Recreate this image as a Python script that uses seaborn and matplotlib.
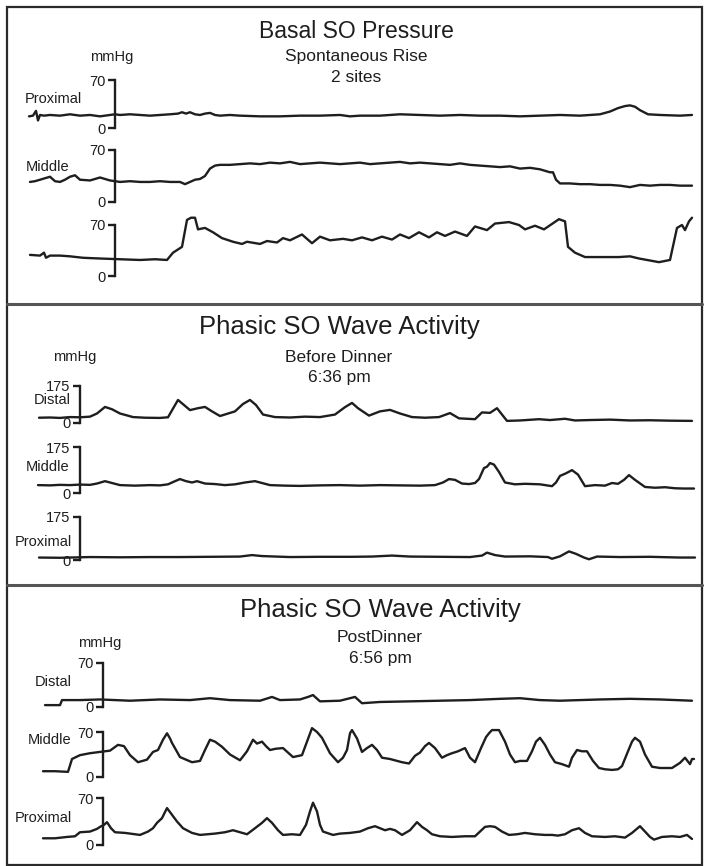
import numpy as np
import matplotlib
matplotlib.use("Agg")
import matplotlib.pyplot as plt
from matplotlib.patches import Rectangle
from matplotlib.lines import Line2D
import seaborn as sns

# ---- traces: (time, mmHg) ----
basal_proximal = [(29, 17), (33, 18), (36, 25), (38, 11), (40, 19), (44, 18), (50, 19), (60, 18), (70, 20), (80, 18),
                  (90, 19), (100, 17), (110, 19), (115, 20), (120, 19), (130, 20), (140, 19), (150, 18), (160, 19), (170, 20),
                  (178, 21), (182, 23), (186, 21), (190, 23), (195, 20), (200, 19), (205, 21), (210, 22), (215, 19), (220, 18),
                  (230, 19), (240, 18), (260, 17), (280, 17), (300, 18), (320, 18), (340, 19), (350, 17), (360, 18), (380, 18),
                  (400, 20), (420, 19), (440, 18), (460, 19), (480, 18), (500, 18), (520, 17), (540, 18), (560, 19), (580, 18),
                  (600, 20), (610, 24), (618, 29), (625, 32), (630, 33), (635, 31), (640, 26), (648, 20), (660, 19), (680, 18),
                  (692, 19)]
basal_middle = [(30, 27), (35, 28), (40, 30), (45, 32), (50, 34), (55, 28), (60, 27), (65, 30), (70, 34), (75, 36),
                (80, 30), (90, 29), (100, 33), (110, 29), (120, 27), (130, 28), (140, 27), (150, 27), (160, 28), (170, 27),
                (180, 27), (185, 24), (190, 27), (195, 30), (200, 31), (205, 35), (210, 45), (215, 49), (220, 50), (230, 50),
                (240, 51), (250, 52), (260, 51), (270, 53), (280, 52), (290, 54), (300, 51), (310, 52), (320, 53), (330, 52),
                (340, 51), (350, 52), (360, 53), (370, 51), (380, 52), (390, 53), (400, 54), (410, 52), (420, 53), (430, 52),
                (440, 51), (450, 50), (460, 52), (470, 50), (480, 49), (490, 48), (500, 47), (510, 48), (520, 45), (530, 46),
                (540, 44), (545, 42), (550, 40), (553, 40), (556, 30), (560, 25), (570, 25), (580, 24), (590, 24), (600, 23),
                (610, 23), (620, 22), (630, 20), (640, 23), (650, 22), (660, 23), (670, 23), (680, 22), (692, 22)]
basal_third = [(30, 29), (40, 28), (44, 32), (46, 25), (50, 28), (60, 28), (70, 27), (83, 25), (100, 24), (120, 23),
               (140, 22), (155, 23), (167, 22), (173, 32), (182, 40), (187, 77), (191, 80), (195, 80), (198, 64), (205, 66),
               (213, 60), (222, 52), (233, 47), (242, 44), (247, 47), (260, 44), (267, 48), (277, 46), (283, 52), (290, 49),
               (302, 57), (312, 45), (320, 54), (330, 49), (343, 51), (352, 49), (362, 53), (372, 49), (382, 54), (392, 50),
               (400, 57), (409, 52), (419, 60), (429, 53), (437, 60), (445, 55), (455, 61), (467, 55), (475, 68), (487, 63),
               (495, 72), (509, 74), (519, 70), (525, 64), (535, 69), (544, 64), (559, 78), (565, 75), (568, 40), (575, 32),
               (585, 26), (600, 26), (619, 26), (630, 27), (639, 24), (659, 19), (670, 22), (677, 66), (682, 70), (685, 63),
               (689, 75), (692, 80)]

before_distal = [(39, 25), (50, 26), (60, 24), (70, 28), (80, 27), (90, 30), (97, 45), (105, 76), (112, 65), (120, 45),
                 (133, 28), (145, 25), (160, 24), (168, 27), (172, 60), (178, 109), (184, 85), (190, 61), (198, 70), (205, 76),
                 (212, 55), (220, 33), (235, 55), (243, 90), (250, 109), (256, 85), (263, 40), (275, 28), (290, 26), (305, 30),
                 (320, 28), (335, 40), (345, 75), (352, 95), (358, 70), (369, 35), (380, 55), (390, 62), (400, 45), (412, 28),
                 (425, 25), (439, 28), (450, 47), (459, 22), (467, 20), (475, 18), (482, 50), (490, 48), (497, 70), (502, 40),
                 (507, 10), (520, 12), (539, 18), (550, 14), (565, 20), (575, 12), (590, 14), (610, 16), (630, 12), (650, 13),
                 (670, 11), (692, 10)]
before_middle = [(38, 30), (50, 29), (60, 31), (70, 30), (80, 32), (90, 31), (97, 36), (105, 45), (112, 38), (120, 30),
                 (135, 28), (150, 30), (160, 29), (168, 33), (175, 45), (180, 53), (186, 45), (192, 40), (197, 45), (205, 36),
                 (215, 34), (225, 30), (235, 33), (245, 40), (255, 45), (262, 38), (270, 30), (285, 28), (300, 27), (320, 29),
                 (340, 30), (360, 28), (380, 30), (400, 29), (420, 28), (435, 30), (443, 40), (449, 53), (455, 50), (462, 36),
                 (469, 34), (475, 38), (479, 53), (484, 95), (487, 100), (490, 114), (494, 108), (499, 80), (505, 40), (515, 33),
                 (525, 35), (540, 33), (552, 26), (556, 40), (560, 65), (566, 75), (572, 87), (578, 70), (585, 26), (595, 30),
                 (605, 28), (612, 38), (618, 35), (624, 50), (629, 68), (635, 50), (645, 23), (655, 20), (665, 22), (675, 18),
                 (684, 17), (694, 17)]
before_proximal = [(39, 10), (60, 9), (90, 12), (120, 11), (150, 12), (180, 12), (210, 13), (240, 14), (252, 20), (262, 16),
                   (290, 12), (320, 13), (352, 13), (372, 14), (392, 18), (410, 14), (440, 13), (470, 12), (482, 18), (487, 30),
                   (495, 20), (505, 14), (530, 15), (548, 12), (552, 5), (560, 15), (569, 35), (576, 25), (584, 10), (589, 3),
                   (597, 14), (620, 12), (650, 13), (680, 10), (695, 10)]

post_distal = [(45, 3), (60, 3), (62, 11), (80, 11), (100, 12), (130, 10), (160, 12), (190, 11), (210, 14), (230, 11),
               (260, 10), (272, 16), (280, 11), (300, 12), (308, 16), (313, 19), (320, 9), (340, 10), (355, 16), (362, 6),
               (380, 8), (410, 9), (440, 10), (470, 11), (500, 13), (520, 14), (540, 11), (560, 10), (600, 12), (630, 13),
               (660, 12), (692, 10)]
post_middle = [(43, 9), (55, 9), (68, 8), (72, 28), (80, 34), (90, 37), (100, 39), (110, 41), (118, 50), (124, 48),
               (130, 34), (138, 23), (147, 27), (153, 39), (158, 42), (163, 58), (167, 68), (170, 60), (172, 53), (180, 31),
               (192, 23), (200, 25), (205, 42), (210, 58), (215, 55), (222, 47), (230, 35), (240, 26), (247, 40), (253, 58),
               (257, 52), (262, 55), (266, 48), (270, 42), (276, 44), (283, 45), (288, 38), (293, 31), (302, 34), (307, 55),
               (312, 76), (317, 70), (322, 61), (330, 37), (338, 23), (343, 30), (347, 42), (350, 68), (352, 73), (357, 60),
               (362, 39), (367, 45), (372, 50), (377, 42), (382, 30), (390, 28), (402, 23), (409, 21), (415, 33), (420, 38),
               (425, 48), (429, 53), (435, 45), (442, 30), (447, 34), (452, 37), (458, 40), (465, 45), (470, 30), (475, 23),
               (481, 45), (486, 62), (489, 68), (492, 73), (499, 73), (505, 55), (510, 35), (515, 23), (520, 25), (527, 25),
               (532, 40), (536, 55), (540, 61), (545, 50), (550, 35), (555, 23), (562, 20), (569, 16), (572, 30), (577, 42),
               (582, 40), (587, 40), (593, 25), (599, 14), (605, 12), (612, 11), (618, 12), (622, 17), (628, 40), (632, 55),
               (635, 61), (640, 55), (645, 35), (652, 16), (660, 14), (672, 14), (680, 22), (685, 30), (688, 24), (690, 20),
               (692, 28), (694, 28)]
post_proximal = [(43, 10), (55, 10), (67, 12), (75, 13), (80, 19), (90, 20), (97, 24), (100, 27), (104, 30), (107, 34),
                 (111, 25), (115, 19), (125, 18), (140, 15), (148, 20), (153, 25), (157, 33), (162, 40), (167, 55), (172, 45),
                 (177, 35), (183, 25), (192, 18), (200, 15), (215, 17), (225, 19), (233, 22), (240, 19), (247, 16), (255, 25),
                 (262, 33), (267, 40), (272, 33), (278, 22), (283, 15), (292, 16), (300, 15), (306, 30), (310, 50), (313, 63),
                 (317, 50), (320, 30), (323, 20), (333, 15), (340, 17), (350, 18), (360, 20), (368, 25), (375, 28), (380, 25),
                 (385, 22), (390, 24), (395, 22), (402, 15), (410, 22), (417, 34), (422, 27), (427, 22), (432, 16), (440, 13),
                 (452, 12), (465, 13), (475, 13), (480, 20), (485, 27), (490, 28), (495, 27), (502, 20), (509, 15), (517, 16),
                 (525, 18), (535, 16), (545, 15), (552, 15), (558, 14), (565, 16), (572, 22), (579, 25), (585, 18), (592, 13),
                 (605, 12), (615, 13), (625, 11), (632, 18), (640, 28), (645, 20), (650, 12), (654, 8), (662, 12), (672, 13),
                 (680, 12), (687, 15), (692, 9)]

titles = ["Basal SO Pressure", "Phasic SO Wave Activity", "Phasic SO Wave Activity"]
subtitles = [["Spontaneous Rise", "2 sites"], ["Before Dinner", "6:36 pm"], ["PostDinner", "6:56 pm"]]
scales = [70, 175, 70]

W, H = 704, 866
INK = "#1e1e1e"

sns.set_theme(style="white")
plt.rcParams["font.family"] = ["Liberation Sans", "DejaVu Sans"]


def fx(px):
    return px / W


def fy(py):
    return 1 - py / H


def trace_axes(fig, data, zero_px, top_px, scale, spine_x, label=None, label_xy=None):
    # one axes per channel; the left spine is the calibration bracket
    per = (zero_px - top_px) / scale
    lo, hi = -0.35 * scale, 1.4 * scale
    bot_px = zero_px - lo * per
    top_ax = zero_px - hi * per
    ax = fig.add_axes([0, fy(bot_px), 1, (bot_px - top_ax) / H])
    ax.set_facecolor("none")
    t, v = zip(*data)
    sns.lineplot(x=list(t), y=list(v), ax=ax, color=INK, lw=1.7, estimator=None, sort=False)
    ax.set_xlim(0, W)
    ax.set_ylim(lo, hi)
    for s in ["top", "right", "bottom"]:
        ax.spines[s].set_visible(False)
    ax.spines["left"].set_position(("data", spine_x))
    ax.spines["left"].set_bounds(0, scale)
    ax.spines["left"].set_linewidth(1.7)
    ax.spines["left"].set_color(INK)
    ax.set_xticks([])
    ax.set_yticks([0, scale])
    ax.set_yticklabels(["0", str(scale)])
    ax.tick_params(axis="y", direction="out", length=5, width=1.7, color=INK,
                   labelsize=10.5, pad=2, labelcolor=INK, left=True)
    ax.set_xlabel("")
    ax.set_ylabel("")
    if label:
        fig.text(fx(label_xy[0]), fy(label_xy[1]), label, ha="center", va="center",
                 fontsize=10.5, color=INK)
    return ax


fig = plt.figure(figsize=(W / 100, H / 100), dpi=100)

# panel 1 - basal pressure
trace_axes(fig, basal_proximal, 128, 80, scales[0], 115, "Proximal", (53, 99))
trace_axes(fig, basal_middle, 202, 150, scales[0], 115, "Middle", (48, 167))
trace_axes(fig, basal_third, 276, 225, scales[0], 115)

# panel 2 - before dinner
trace_axes(fig, before_distal, 423, 386, scales[1], 80, "Distal", (52, 400))
trace_axes(fig, before_middle, 493, 447, scales[1], 80, "Middle", (48, 467))
trace_axes(fig, before_proximal, 560, 517, scales[1], 80, "Proximal", (43, 542))

# panel 3 - post dinner
trace_axes(fig, post_distal, 707, 663, scales[2], 103, "Distal", (53, 682))
trace_axes(fig, post_middle, 777, 732, scales[2], 103, "Middle", (50, 740))
trace_axes(fig, post_proximal, 845, 798, scales[2], 103, "Proximal", (43, 818))

# headings
head = [(356, 31, 57, 78, 16.5), (339, 327, 357, 378, 18.5), (380, 610, 637, 659, 18.5)]
for i, (cx, ty, s1, s2, fs) in enumerate(head):
    fig.text(fx(cx), fy(ty), titles[i], ha="center", va="center", fontsize=fs, color=INK)
    fig.text(fx(cx), fy(s1), subtitles[i][0], ha="center", va="center", fontsize=12.5, color=INK)
    fig.text(fx(cx), fy(s2), subtitles[i][1], ha="center", va="center", fontsize=12.5, color=INK)

for x, y in [(112, 57), (75, 357), (100, 643)]:
    fig.text(fx(x), fy(y), "mmHg", ha="center", va="center", fontsize=10.5, color=INK)

# frame and panel separators
fig.add_artist(Rectangle((fx(7), fy(865)), fx(702) - fx(7), fy(7) - fy(865),
                         transform=fig.transFigure, fill=False, ec="#2a2a2a", lw=1.6))
for yy in [304, 585]:
    fig.add_artist(Line2D([fx(7), fx(702)], [fy(yy), fy(yy)], transform=fig.transFigure,
                          color="#555555", lw=2.2))

fig.savefig("out.png", dpi=100, facecolor="white")
